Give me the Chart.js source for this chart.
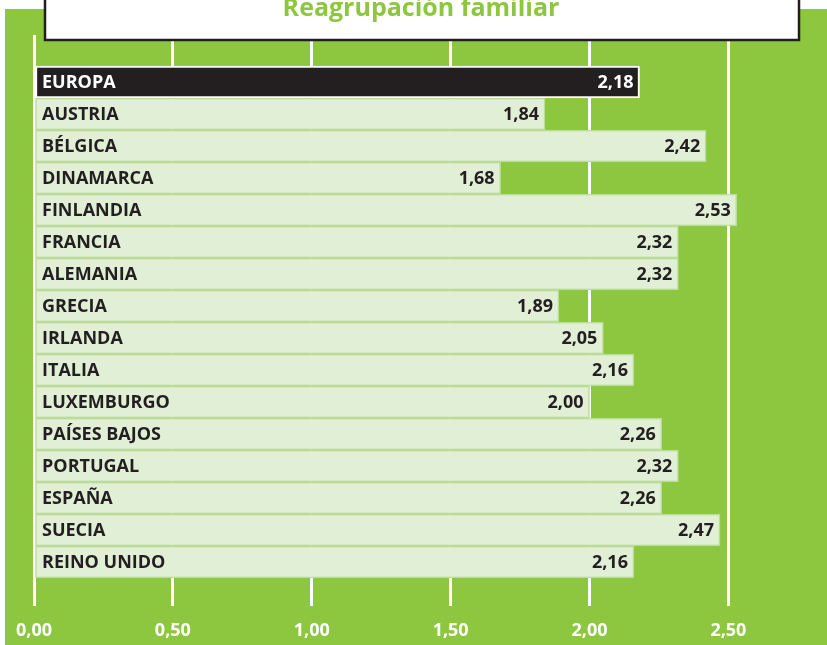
<!DOCTYPE html>
<html><head><meta charset="utf-8">
<script src="https://cdn.jsdelivr.net/npm/chart.js@4"></script>
<style>html,body{margin:0;padding:0;background:#fff;}</style>
</head><body><canvas id="c" width="827" height="645"></canvas>
<script>
const title = 'Reagrupación familiar';
const categories = ['EUROPA','AUSTRIA','BÉLGICA','DINAMARCA','FINLANDIA','FRANCIA','ALEMANIA','GRECIA','IRLANDA','ITALIA','LUXEMBURGO','PAÍSES BAJOS','PORTUGAL','ESPAÑA','SUECIA','REINO UNIDO'];
const values = [2.18,1.84,2.42,1.68,2.53,2.32,2.32,1.89,2.05,2.16,2.00,2.26,2.32,2.26,2.47,2.16];
const xTicks = [0,0.5,1,1.5,2,2.5];

const GREEN = '#8dc63f';
const FONT = "'Open Sans', sans-serif";
const fmt = v => v.toFixed(2).replace('.', ',');

const decor = {
  id: 'decor',
  beforeDraw(chart) {
    const c = chart.ctx;
    c.save();
    c.fillStyle = GREEN;
    c.fillRect(5, 9, chart.width - 5, chart.height - 9);
    c.restore();
  },
  afterDatasetsDraw(chart) {
    const c = chart.ctx;
    const meta = chart.getDatasetMeta(0);
    c.save();
    c.font = 'bold 18px ' + FONT;
    c.textBaseline = 'middle';
    meta.data.forEach((bar, i) => {
      c.fillStyle = i === 0 ? '#ffffff' : '#231f20';
      c.textAlign = 'left';
      c.fillText(categories[i], chart.chartArea.left + 8, bar.y + 1);
      c.textAlign = 'right';
      c.fillText(fmt(values[i]), bar.x - 6, bar.y + 1);
    });
    c.restore();
  },
  afterDraw(chart) {
    const c = chart.ctx;
    c.save();
    c.fillStyle = '#ffffff';
    c.fillRect(45, -10, 754, 50);
    c.strokeStyle = '#231f20';
    c.lineWidth = 2.5;
    c.strokeRect(45, -10, 754, 50);
    c.fillStyle = GREEN;
    c.font = 'bold 25px ' + FONT;
    c.textAlign = 'center';
    c.textBaseline = 'alphabetic';
    c.fillText(title, 421, 16);
    c.restore();
  }
};

new Chart(document.getElementById('c'), {
  type: 'bar',
  data: {
    datasets: [{
      data: values.map((v, i) => ({ x: v, y: i })),
      backgroundColor: values.map((v, i) => i === 0 ? '#231f20' : '#e1efd6'),
      borderColor: values.map((v, i) => i === 0 ? '#ffffff' : '#b9dc97'),
      borderWidth: values.map((v, i) => i === 0 ? 2 : 1.5),
      borderSkipped: false,
      barPercentage: 1,
      categoryPercentage: 1
    }]
  },
  plugins: [decor],
  options: {
    indexAxis: 'y',
    responsive: false,
    animation: false,
    devicePixelRatio: 1,
    layout: { padding: { left: 34, right: 0, top: 35, bottom: 0 } },
    plugins: { legend: { display: false }, tooltip: { enabled: false } },
    scales: {
      x: {
        type: 'linear',
        min: 0,
        max: 2.855,
        afterBuildTicks: s => { s.ticks = xTicks.map(v => ({ value: v })); },
        afterFit: s => { s.height = 39; },
        grid: { color: '#ffffff', lineWidth: 3, drawTicks: false },
        border: { display: false },
        ticks: {
          padding: 14,
          color: '#ffffff',
          font: { family: FONT, size: 18, weight: 'bold' },
          callback: v => fmt(v)
        }
      },
      y: {
        type: 'linear',
        display: false,
        reverse: true,
        offset: false,
        grid: { offset: false },
        min: -1.469,
        max: 16.375,
        afterBuildTicks: s => { s.ticks = categories.map((c, i) => ({ value: i })); }
      }
    }
  }
});
</script></body></html>
